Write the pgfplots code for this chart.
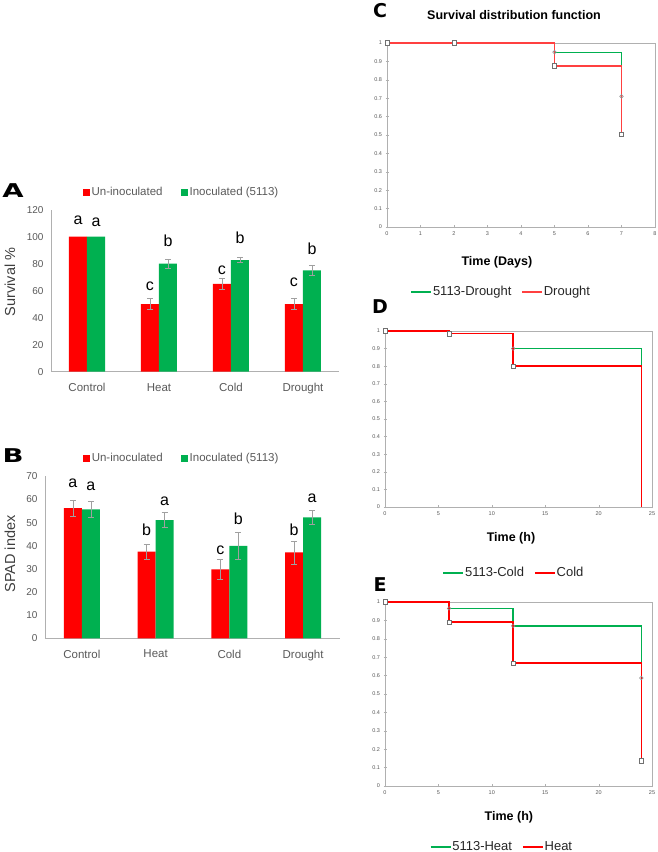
\documentclass[border=0pt]{standalone}
\usepackage{fontspec}
\setmainfont{Liberation Sans}
\newfontfamily\heavyfont{DejaVu Sans}
\usepackage{graphicx}
\usepackage{pgfplots}
\pgfplotsset{compat=1.18}
\definecolor{xred}{HTML}{FF0000}
\definecolor{lred}{HTML}{FF4040}
\definecolor{xgreen}{HTML}{00B050}
\definecolor{axgray}{HTML}{B0B0B0}
\definecolor{txtgray}{HTML}{595959}
\definecolor{errgray}{HTML}{A0A0A0}
\definecolor{markgray}{HTML}{707070}
\definecolor{legtxt}{HTML}{262626}

\tikzset{lt/.style={font=\fontsize{16}{16}\selectfont, text=black},
  plab/.style={font=\heavyfont\bfseries\fontsize{19}{19}\selectfont}}
\pgfplotsset{
  barax/.style={
    scale only axis, anchor=south west,
    xmin=-0.5, xmax=3.5, ymin=0,
    axis x line*=bottom, axis y line*=left,
    axis line style={axgray, -},
    xtick={0,1,2,3}, xticklabels={Control,Heat,Cold,Drought},
    major tick length=0pt,
    ybar=0pt, bar width=18pt,
    tick label style={txtgray},
    xticklabel style={font=\fontsize{11.5}{12}\selectfont, yshift=-8pt},
    yticklabel style={font=\fontsize{10}{12}\selectfont, xshift=-4pt},
    /pgf/number format/assume math mode=true,
    legend columns=2,
    legend style={draw=none, fill=none, anchor=center,
      font=\fontsize{11.5}{13}\selectfont, text=txtgray,
      /tikz/every odd column/.append style={column sep=0pt},
      /tikz/every even column/.append style={column sep=16pt}},
    legend image code/.code={\fill[##1] (0pt,-3.5pt) rectangle (7pt,3.5pt);},
    clip=false,
  },
  errp/.style={draw=none, fill=none, forget plot,
    error bars/.cd, y dir=both, y explicit,
    error bar style={draw=errgray, line width=0.7pt},
    error mark options={rotate=90, draw=errgray, mark size=3pt, line width=0.7pt}},
  survax/.style={
    scale only axis, anchor=south west,
    ymin=0, ymax=1, ytick={0,0.1,...,1},
    axis line style={axgray},
    xtick pos=bottom, ytick pos=left,
    tick align=center, major tick length=3pt,
    tick style={axgray},
    tick label style={font=\fontsize{5.5}{6}\selectfont, text=txtgray},
    /pgf/number format/assume math mode=true,
    xlabel style={font=\bfseries\fontsize{12.5}{14}\selectfont, anchor=center},
    legend columns=2,
    legend style={draw=none, fill=none, anchor=center,
      font=\fontsize{13}{14}\selectfont, text=legtxt,
      nodes={inner xsep=1pt},
      /tikz/every odd column/.append style={column sep=0pt},
      /tikz/every even column/.append style={column sep=9pt}},
    legend image code/.code={\draw[##1] (0pt,0pt) -- (20pt,0pt);},
    clip=false,
  },
  sqmark/.style={only marks, mark=square*, mark size=2.2pt, forget plot,
    mark options={fill=white, draw=markgray, line width=0.6pt}},
  cimark/.style={only marks, mark=o, mark size=1.8pt, forget plot,
    mark options={draw=markgray!80, line width=0.6pt}},
}

\begin{document}
\begin{tikzpicture}
\useasboundingbox (0pt,0pt) rectangle (658pt,852pt);

% ---------- Panel A ----------
\begin{axis}[barax, at={(51pt,480.3pt)}, width=288pt, height=162pt,
  ymax=120, ytick={0,20,...,120},
  legend style={at={(0.453,1.109)}}]
\addplot[fill=xred, draw=none, bar shift=-9pt] coordinates {(0,100) (1,50) (2,65) (3,50)};
\addlegendentry{Un-inoculated}
\addplot[fill=xgreen, draw=none, bar shift=9pt] coordinates {(0,100) (1,80) (2,82.7) (3,75)};
\addlegendentry{Inoculated (5113)}
\addplot[bar shift=-9pt, errp] coordinates {(1,50) +- (0,4) (2,65) +- (0,4) (3,50) +- (0,4)};
\addplot[bar shift=9pt, errp] coordinates {(1,80) +- (0,3.5) (2,82.7) +- (0,2) (3,75) +- (0,3.5)};
\node[lt, xshift=-9pt] at (axis cs:0,111.9) {a};
\node[lt, xshift=9pt]  at (axis cs:0,110.4) {a};
\node[lt, xshift=-9pt] at (axis cs:1,63.5) {c};
\node[lt, xshift=9pt]  at (axis cs:1,96.8) {b};
\node[lt, xshift=-9pt] at (axis cs:2,75.3) {c};
\node[lt, xshift=9pt]  at (axis cs:2,99.5) {b};
\node[lt, xshift=-9pt] at (axis cs:3,65.9) {c};
\node[lt, xshift=9pt]  at (axis cs:3,90.7) {b};
\end{axis}
\node[rotate=90, font=\fontsize{14.5}{15}\selectfont, text=txtgray!70!black] at (10pt,570pt) {Survival \%};
\node[plab] at (13pt,661pt) {\scalebox{1.45}[1]{A}};

% ---------- Panel B ----------
\begin{axis}[barax, at={(45pt,213.7pt)}, width=295pt, height=162pt,
  ymax=70, ytick={0,10,...,70},
  legend style={at={(0.463,1.113)}}]
\addplot[fill=xred, draw=none, bar shift=-9pt] coordinates {(0,56.2) (1,37.4) (2,29.8) (3,37.1)};
\addlegendentry{Un-inoculated}
\addplot[fill=xgreen, draw=none, bar shift=9pt] coordinates {(0,55.7) (1,51.1) (2,39.9) (3,52.3)};
\addlegendentry{Inoculated (5113)}
\addplot[bar shift=-9pt, errp] coordinates {(0,56.2) +- (0,3.3) (1,37.4) +- (0,3.2) (2,29.8) +- (0,4.5) (3,37.1) +- (0,5)};
\addplot[bar shift=9pt, errp] coordinates {(0,55.7) +- (0,3.3) (1,51.1) +- (0,3.2) (2,39.9) +- (0,6) (3,52.3) +- (0,3.2)};
\node[lt, xshift=-9pt] at (axis cs:0,67.2) {a};
\node[lt, xshift=9pt]  at (axis cs:0,65.5) {a};
\node[lt, xshift=-9pt] at (axis cs:1,47.1) {b};
\node[lt, xshift=9pt]  at (axis cs:1,59.4) {a};
\node[lt, xshift=-9pt] at (axis cs:2,38.1) {c};
\node[lt, xshift=9pt]  at (axis cs:2,51.8) {b};
\node[lt, xshift=-9pt] at (axis cs:3,46.8) {b};
\node[lt, xshift=9pt]  at (axis cs:3,60.5) {a};
\end{axis}
\node[rotate=90, font=\fontsize{14.5}{15}\selectfont, text=txtgray!70!black] at (10pt,298pt) {SPAD index};
\node[plab] at (13pt,396pt) {\scalebox{1.45}[1]{B}};

% ---------- Panel C ----------
\begin{axis}[survax, at={(387pt,625pt)}, width=268pt, height=184pt,
  xmin=0, xmax=8, xtick={0,1,...,8},
  title={Survival distribution function},
  title style={at={(axis description cs:0.474,1.12)}, anchor=center, font=\bfseries\fontsize{12.5}{14}\selectfont},
  xlabel={Time (Days)}, xlabel style={at={(axis description cs:0.41,-0.19)}},
  legend style={at={(0.425,-0.353)}}]
\addplot[xgreen, line width=1.3pt] coordinates {(0,1) (5,1) (5,0.95) (7,0.95) (7,0.71)};
\addlegendentry{5113-Drought}
\addplot[lred, line width=1.3pt] coordinates {(0,1) (5,1) (5,0.875) (7,0.875) (7,0.505)};
\addlegendentry{Drought}
\addplot[sqmark] coordinates {(0,1) (2,1) (5,0.875) (7,0.505)};
\addplot[cimark] coordinates {(5,0.95) (7,0.71)};
\end{axis}
\node[plab] at (380pt,841pt) {C};

% ---------- Panel D ----------
\begin{axis}[survax, at={(385pt,345pt)}, width=267pt, height=176pt,
  xmin=0, xmax=25, xtick={0,5,...,25},
  xlabel={Time (h)}, xlabel style={at={(axis description cs:0.472,-0.176)}},
  legend style={at={(0.481,-0.375)}}]
\addplot[xgreen, line width=1.6pt] coordinates {(0,1) (6,1) (6,0.985) (12,0.985) (12,0.9) (24,0.9) (24,0)};
\addlegendentry{5113-Cold}
\addplot[xred, line width=1.6pt] coordinates {(0,1) (6,1) (6,0.985) (12,0.985) (12,0.8) (24,0.8) (24,0)};
\addlegendentry{Cold}
\addplot[sqmark] coordinates {(0,1) (6,0.985) (12,0.8)};
\addplot[cimark] coordinates {(12,0.9)};
\end{axis}
\node[plab] at (380pt,545pt) {D};

% ---------- Panel E ----------
\begin{axis}[survax, at={(385pt,66pt)}, width=267pt, height=184pt,
  xmin=0, xmax=25, xtick={0,5,...,25},
  xlabel={Time (h)}, xlabel style={at={(axis description cs:0.464,-0.168)}},
  legend style={at={(0.436,-0.332)}}]
\addplot[xgreen, line width=1.6pt] coordinates {(0,1) (6,1) (6,0.965) (12,0.965) (12,0.87) (24,0.87) (24,0.587)};
\addlegendentry{5113-Heat}
\addplot[xred, line width=1.6pt] coordinates {(0,1) (6,1) (6,0.89) (12,0.89) (12,0.668) (24,0.668) (24,0.136)};
\addlegendentry{Heat}
\addplot[sqmark] coordinates {(0,1) (6,0.89) (12,0.668) (24,0.136)};
\addplot[cimark] coordinates {(6,0.965) (12,0.87) (24,0.587)};
\end{axis}
\node[plab] at (380pt,267pt) {E};

\end{tikzpicture}
\end{document}
